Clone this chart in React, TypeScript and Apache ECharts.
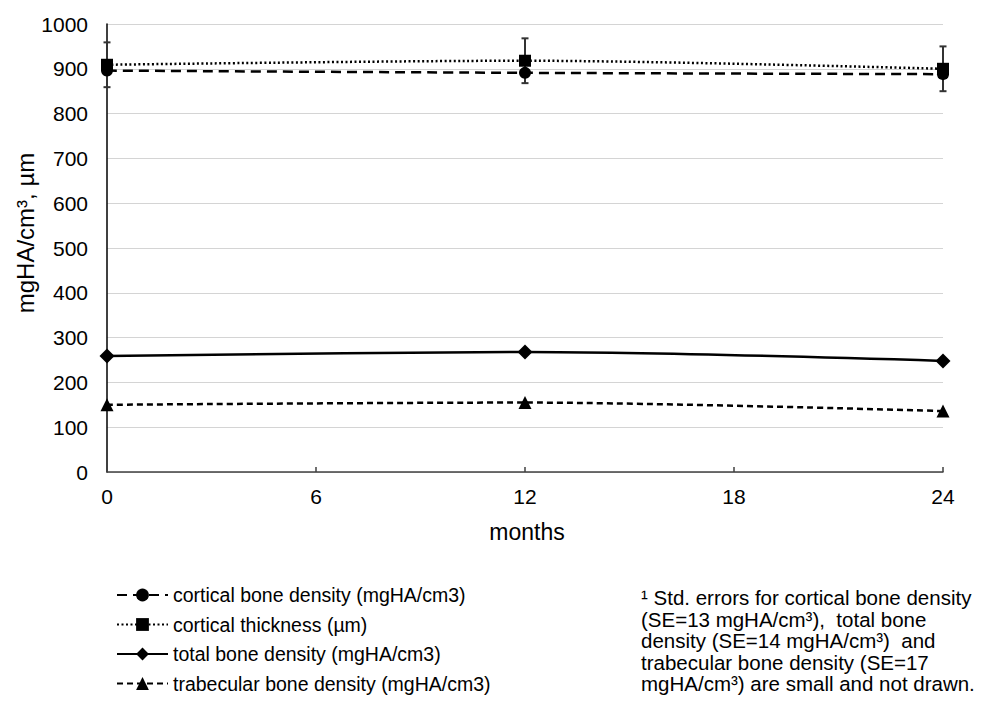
import React, { useEffect, useRef } from "react";
import * as echarts from "echarts";

const months = [0, 12, 24];
const corticalDensity = [896, 891, 888];
const corticalThickness = [909, 918, 900];
const thicknessSE = [50, 50, 50];
const totalDensity = [259, 268, 248];
const trabecularDensity = [150, 155, 136];

const seriesNames = [
  "cortical bone density (mgHA/cm3)",
  "cortical thickness (µm)",
  "total bone density (mgHA/cm3)",
  "trabecular bone density (mgHA/cm3)",
];

const footnote = [
  "¹ Std. errors for cortical bone density",
  "(SE=13 mgHA/cm³),  total bone",
  "density (SE=14 mgHA/cm³)  and",
  "trabecular bone density (SE=17",
  "mgHA/cm³) are small and not drawn.",
];

const FONT = "Liberation Sans, Arial, sans-serif";

export default function App() {
  const ref = useRef<HTMLDivElement>(null);
  useEffect(() => {
    if (!ref.current) return;
    const chart = echarts.init(ref.current, null, { renderer: "svg" });
    const pair = (arr: number[]) => months.map((m, i) => [m, arr[i]]);
    const errData = months.map((m, i) => [m, corticalThickness[i] - thicknessSE[i], corticalThickness[i] + thicknessSE[i]]);
    const lineBase = (name: string, data: number[], symbol: string, size: number, type: any) => ({
      name,
      type: "line",
      data: pair(data),
      smooth: 0.3,
      symbol,
      symbolSize: size,
      itemStyle: { color: "#000" },
      lineStyle: { color: "#000", width: 2.5, type, cap: "butt" },
      z: 3,
    });
    chart.setOption({
      animation: false,
      backgroundColor: "#fff",
      textStyle: { fontFamily: FONT },
      grid: { left: 107, right: 43, top: 24, bottom: 232, containLabel: false },
      xAxis: {
        type: "value",
        min: 0,
        max: 24,
        interval: 6,
        axisLine: { show: true, lineStyle: { color: "#404040", width: 1.5 } },
        axisTick: { show: true, inside: true, length: 5, lineStyle: { color: "#404040", width: 1.5 } },
        axisLabel: { fontSize: 21, color: "#000", margin: 14, fontFamily: FONT },
        splitLine: { show: false },
      },
      yAxis: {
        type: "value",
        min: 0,
        max: 1000,
        interval: 100,
        axisLine: { show: true, lineStyle: { color: "#000", width: 1.5 } },
        axisTick: { show: false },
        axisLabel: {
          fontSize: 21,
          color: "#000",
          margin: 19,
          fontFamily: FONT,
          formatter: (v: number) => String(v),
        },
        splitLine: { show: true, lineStyle: { color: "#d4d4d4", width: 1.2 } },
      },
      legend: {
        data: seriesNames,
        orient: "vertical",
        left: 116,
        top: 585,
        padding: 0,
        itemWidth: 51,
        itemHeight: 16,
        itemGap: 9.5,
        textStyle: { fontSize: 19.5, color: "#000", fontFamily: FONT },
      },
      graphic: [
        {
          type: "text",
          x: 25,
          y: 233,
          rotation: Math.PI / 2,
          style: {
            text: "mgHA/cm³, µm",
            fill: "#000",
            font: `24px ${FONT}`,
            align: "center",
            verticalAlign: "middle",
          },
        },
        {
          type: "text",
          x: 527,
          y: 532,
          style: {
            text: "months",
            fill: "#000",
            font: `23px ${FONT}`,
            align: "center",
            verticalAlign: "middle",
          },
        },
        {
          type: "text",
          x: 641,
          y: 587,
          style: {
            text: footnote.join("\n"),
            fill: "#000",
            font: `20.5px ${FONT}`,
            lineHeight: 21.5,
            align: "left",
            verticalAlign: "top",
          },
        },
      ],
      series: [
        {
          name: "errorbars",
          type: "custom",
          data: errData,
          z: 2,
          renderItem: (params: any, api: any) => {
            const x = api.value(0);
            const lo = api.coord([x, api.value(1)]);
            const hi = api.coord([x, api.value(2)]);
            const w = 3.5;
            const style = { stroke: "#333", lineWidth: 2 };
            return {
              type: "group",
              children: [
                { type: "line", shape: { x1: lo[0], y1: lo[1], x2: hi[0], y2: hi[1] }, style },
                { type: "line", shape: { x1: lo[0] - w, y1: lo[1], x2: lo[0] + w, y2: lo[1] }, style },
                { type: "line", shape: { x1: hi[0] - w, y1: hi[1], x2: hi[0] + w, y2: hi[1] }, style },
              ],
            };
          },
        },
        lineBase(seriesNames[0], corticalDensity, "circle", 12, [10, 6]),
        lineBase(seriesNames[1], corticalThickness, "rect", 12, [2, 2.5]),
        lineBase(seriesNames[2], totalDensity, "diamond", 15, "solid"),
        lineBase(seriesNames[3], trabecularDensity, "triangle", 13, [6, 4]),
      ],
    });
    return () => chart.dispose();
  }, []);
  return (
    <div
      ref={ref}
      style={{ position: "fixed", left: 0, top: 0, width: 986, height: 704, background: "#fff" }}
    />
  );
}
